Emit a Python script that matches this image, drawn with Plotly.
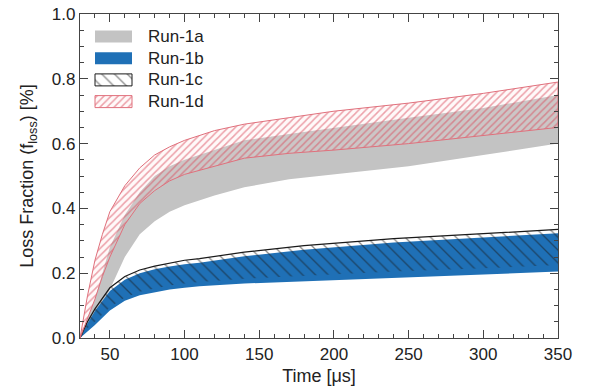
import plotly.graph_objects as go

# ---- data ----
t_red = [30, 35, 40, 45, 50, 60, 70, 80, 90, 100, 120, 140, 170, 200, 250, 300, 350]
run1d_hi = [0.0, 0.13, 0.24, 0.32, 0.39, 0.47, 0.525, 0.565, 0.59, 0.61, 0.64, 0.66, 0.68, 0.70, 0.725, 0.755, 0.79]
run1d_lo = [0.0, 0.06, 0.12, 0.19, 0.25, 0.35, 0.415, 0.455, 0.485, 0.505, 0.53, 0.555, 0.57, 0.58, 0.60, 0.625, 0.65]

t_gray = [30, 40, 50, 60, 70, 80, 90, 100, 120, 140, 170, 200, 250, 300, 350]
run1a_hi = [0.0, 0.12, 0.28, 0.38, 0.45, 0.50, 0.53, 0.55, 0.58, 0.61, 0.63, 0.65, 0.68, 0.71, 0.75]
run1a_lo = [0.0, 0.06, 0.15, 0.25, 0.32, 0.36, 0.39, 0.41, 0.44, 0.465, 0.49, 0.505, 0.53, 0.565, 0.60]

t_blue = [30, 35, 40, 50, 60, 70, 80, 90, 100, 110, 140, 180, 240, 300, 350]
run1c_hi = [0.0, 0.05, 0.09, 0.155, 0.19, 0.21, 0.222, 0.232, 0.24, 0.245, 0.265, 0.285, 0.307, 0.322, 0.335]
run1c_lo = [0.0, 0.03, 0.05, 0.095, 0.125, 0.143, 0.153, 0.162, 0.168, 0.173, 0.183, 0.192, 0.205, 0.215, 0.225]
run1b_hi = [0.0, 0.045, 0.083, 0.145, 0.18, 0.20, 0.212, 0.221, 0.228, 0.232, 0.252, 0.272, 0.295, 0.31, 0.323]
run1b_lo = [0.0, 0.02, 0.04, 0.085, 0.115, 0.132, 0.142, 0.15, 0.155, 0.16, 0.168, 0.175, 0.184, 0.195, 0.205]

x_ticks = [50, 100, 150, 200, 250, 300, 350]
y_ticks = [0.0, 0.2, 0.4, 0.6, 0.8, 1.0]
legend_names = ["Run-1a", "Run-1b", "Run-1c", "Run-1d"]

# ---- styles ----
FONT = "Liberation Sans, Arial, Helvetica"
GRAY = "#c3c3c3"
BLUE = "#1f70b6"
RED_FG = "#d9485a"
RED_LINE = "#e0707c"
BLACK = "#1a1a1a"
AX = "#444444"
TXT = "#222222"

styles = {
    "Run-1a": dict(fillcolor=GRAY, line=dict(color=GRAY, width=0)),
    "Run-1b": dict(fillcolor=BLUE, line=dict(color=BLUE, width=0)),
    "Run-1c": dict(fillcolor="rgba(0,0,0,0)",
                   fillpattern=dict(shape="\\", fgcolor=BLACK, bgcolor="rgba(0,0,0,0)", size=9, solidity=0.15),
                   line=dict(color=BLACK, width=0)),
    "Run-1d": dict(fillcolor="rgba(0,0,0,0)",
                   fillpattern=dict(shape="/", fgcolor=RED_FG, bgcolor="rgba(255,210,215,0.15)", size=5, solidity=0.3),
                   line=dict(color=RED_LINE, width=1)),
}


def band(t, lo, hi):
    return list(t) + list(t)[::-1], list(lo) + list(hi)[::-1]


fig = go.Figure()

for name, t, lo, hi in [("Run-1a", t_gray, run1a_lo, run1a_hi),
                        ("Run-1b", t_blue, run1b_lo, run1b_hi),
                        ("Run-1c", t_blue, run1c_lo, run1c_hi),
                        ("Run-1d", t_red, run1d_lo, run1d_hi)]:
    xs, ys = band(t, lo, hi)
    fig.add_trace(go.Scatter(x=xs, y=ys, fill="toself", mode="lines", name=name,
                             xaxis="x", yaxis="y",
                             showlegend=False, hoverinfo="skip", **styles[name]))
    if name == "Run-1c":
        fig.add_trace(go.Scatter(x=t, y=hi, mode="lines", line=dict(color=BLACK, width=1.2),
                                 xaxis="x", yaxis="y", showlegend=False, hoverinfo="skip"))

# ---- custom legend drawn on a pixel-coordinate overlay axis ----
PLOT_L, PLOT_R, PLOT_T, PLOT_B = 80, 558, 14, 338
sw_left, sw_w, sw_h = 95, 37, 12
row0, row_gap = 36.5, 21.7
for i, name in enumerate(legend_names):
    cy = row0 + i * row_gap
    x0, x1 = sw_left, sw_left + sw_w
    y0, y1 = cy - sw_h / 2, cy + sw_h / 2
    st = dict(styles[name])
    if name == "Run-1c":
        st["line"] = dict(color=BLACK, width=1)
    fig.add_trace(go.Scatter(x=[x0, x1, x1, x0, x0], y=[y0, y0, y1, y1, y0], fill="toself",
                             mode="lines", xaxis="x2", yaxis="y2", showlegend=False,
                             hoverinfo="skip", **st))
    fig.add_annotation(x=x1 + 14, y=cy, xref="x2", yref="y2", text=name, showarrow=False,
                       xanchor="left", yanchor="middle",
                       font=dict(family=FONT, size=17, color=TXT))

axis_common = dict(showline=True, linecolor=AX, linewidth=1.2, mirror="ticks",
                   ticks="inside", ticklen=8, tickcolor=AX, showgrid=False, automargin=False,
                   zeroline=False, tickfont=dict(family=FONT, size=17, color=TXT))

xaxis = dict(anchor="y", domain=[0, 1], range=[30, 350], tickmode="array", tickvals=x_ticks,
             minor=dict(ticks="inside", dtick=10, tick0=30, ticklen=4, tickcolor=AX),
             title=dict(text="Time [μs]", font=dict(family=FONT, size=18, color=TXT), standoff=6),
             **axis_common)
yaxis = dict(anchor="x", domain=[0, 1], range=[0, 1.0], tickmode="array", tickvals=y_ticks, tickformat=".1f",
             minor=dict(ticks="inside", dtick=0.05, tick0=0, ticklen=4, tickcolor=AX),
             title=dict(text="Loss Fraction (f<sub>loss</sub>) [%]",
                        font=dict(family=FONT, size=18, color=TXT), standoff=13),
             **axis_common)

fig.update_layout(
    width=597, height=390,
    margin=dict(l=PLOT_L, r=597 - PLOT_R, t=PLOT_T, b=390 - PLOT_B),
    plot_bgcolor="white", paper_bgcolor="white",
    showlegend=False,
    xaxis=xaxis,
    yaxis=yaxis,
    xaxis2=dict(anchor="y2", overlaying="x", range=[PLOT_L, PLOT_R], visible=False, fixedrange=True),
    yaxis2=dict(anchor="x2", overlaying="y", range=[PLOT_B, PLOT_T], visible=False, fixedrange=True),
)

fig.write_html("out.html", config={"displayModeBar": False, "staticPlot": True},
               post_script="document.body.style.margin='0';document.body.style.overflow='hidden';")
